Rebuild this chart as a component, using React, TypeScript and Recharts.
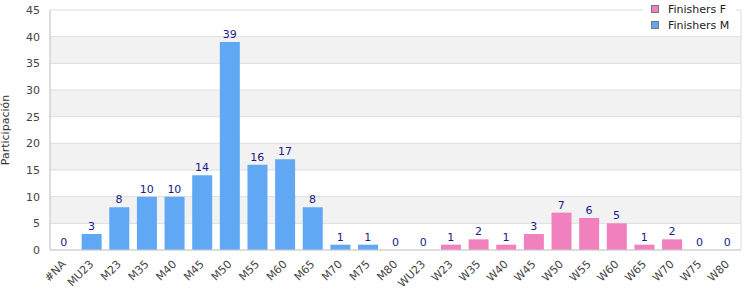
import React from 'react';
import { ComposedChart, Bar, Line, XAxis, YAxis, CartesianGrid, Legend, LabelList } from 'recharts';

const categories = ['#NA','MU23','M23','M35','M40','M45','M50','M55','M60','M65','M70','M75','M80','WU23','W23','W35','W40','W45','W50','W55','W60','W65','W70','W75','W80'];
const finishersM: (number | null)[] = [0,3,8,10,10,14,39,16,17,8,1,1,0,0,null,null,null,null,null,null,null,null,null,null,null];
const finishersF: (number | null)[] = [null,null,null,null,null,null,null,null,null,null,null,null,null,null,1,2,1,3,7,6,5,1,2,0,0];
const yTicks = [0,5,10,15,20,25,30,35,40,45];

const data = categories.map((c, i) => ({
  cat: c,
  M: finishersM[i],
  F: finishersF[i],
  L: finishersM[i] !== null ? finishersM[i] : finishersF[i],
}));

const COLOR_M = '#60a8f4';
const COLOR_F = '#f081be';
const FONT = 'DejaVu Sans, sans-serif';

const XTick = (props: any) => {
  const { x, y, payload } = props;
  return (
    <g transform={`translate(${x},${y + 4}) rotate(-45)`}>
      <text x={0} y={0} dy="0.35em" textAnchor="end" fill="#444" fontSize={11} fontFamily={FONT}>
        {payload.value}
      </text>
    </g>
  );
};

const renderLabel = (props: any) => {
  const { x, y, value } = props;
  if (value === null || value === undefined) return null;
  return (
    <text x={x} y={y - 4} textAnchor="middle" fill="#1a1a8c" fontSize={11} fontFamily={FONT}>
      {value}
    </text>
  );
};

const renderLegend = () => {
  const items = [
    { label: 'Finishers F', color: COLOR_F },
    { label: 'Finishers M', color: COLOR_M },
  ];
  return (
    <div style={{ background: '#fff', width: 93, height: 36, fontFamily: FONT, fontSize: 11, color: '#222' }}>
      {items.map((it, i) => (
        <div key={i} style={{ display: 'flex', alignItems: 'center', height: 16, paddingTop: i === 0 ? 1 : 0 }}>
          <span style={{ display: 'inline-block', width: 6, height: 6, background: it.color, border: '1px solid #777', marginLeft: 8, marginRight: 9 }} />
          <span>{it.label}</span>
        </div>
      ))}
    </div>
  );
};

export default function App() {
  return (
    <div style={{ position: 'absolute', left: 0, top: 0 }}>
      <ComposedChart width={750} height={300} data={data} margin={{ top: 10, right: 9, bottom: 0, left: 0 }}>
        <CartesianGrid
          stroke="#dddddd"
          horizontalFill={['#ffffff', '#f2f2f2']}
          verticalCoordinatesGenerator={({ offset }: any) => [offset.left, offset.left + offset.width]}
        />
        <XAxis
          dataKey="cat"
          interval={0}
          height={50}
          tickLine={false}
          axisLine={{ stroke: '#cccccc' }}
          tick={<XTick />}
        />
        <YAxis
          domain={[0, 45]}
          ticks={yTicks}
          width={50}
          tickLine={false}
          axisLine={{ stroke: '#cccccc' }}
          tick={{ fill: '#444', fontSize: 11, fontFamily: FONT }}
          tickMargin={4}
          label={{ value: 'Participación', angle: -90, position: 'insideLeft', offset: 5, style: { textAnchor: 'middle', fill: '#333', fontSize: 11, fontFamily: FONT } }}
        />
        <Legend
          layout="vertical"
          align="center"
          verticalAlign="middle"
          content={renderLegend}
          wrapperStyle={{ top: 0, left: 643, width: 93, height: 36 }}
        />
        <Bar dataKey="F" name="Finishers F" stackId="a" fill={COLOR_F} barSize={20} isAnimationActive={false} />
        <Bar dataKey="M" name="Finishers M" stackId="a" fill={COLOR_M} barSize={20} isAnimationActive={false} />
        <Line dataKey="L" stroke="none" dot={false} activeDot={false} legendType="none" isAnimationActive={false}>
          <LabelList dataKey="L" content={renderLabel} />
        </Line>
      </ComposedChart>
    </div>
  );
}
